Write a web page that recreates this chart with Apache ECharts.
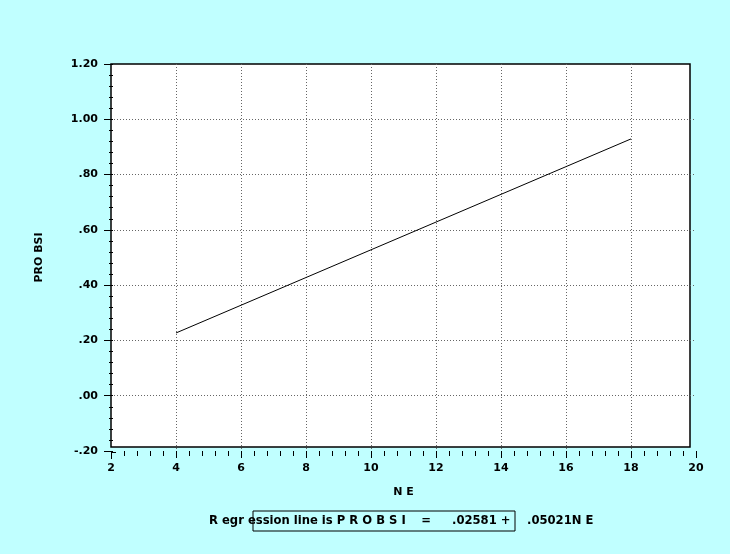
<!DOCTYPE html>
<html>
<head>
<meta charset="utf-8">
<script src="https://cdn.jsdelivr.net/npm/echarts@6/dist/echarts.min.js"></script>
<style>
html,body{margin:0;padding:0;background:#C0FFFF;}
#c{width:730px;height:554px;}
</style>
</head>
<body>
<div id="c"></div>
<script>
// Data
const xValues = [4, 18];
const yValues = [0.227, 0.929];
const xTicks = [2, 4, 6, 8, 10, 12, 14, 16, 18, 20];
const yTicks = ['-.20', '.00', '.20', '.40', '.60', '.80', '1.00', '1.20'];
const xTitle = 'N E';
const yTitle = 'PRO BSI';
const eqParts = ['R egr ession line is P R O B S I', '=', '.02581 +', '.05021N E'];

const FONT = '"DejaVu Sans", sans-serif';
const FS = 11;
const EQFS = 11.6;
function fmtY(v) {
  const idx = Math.round((v + 0.2) / 0.2);
  return yTicks[idx] !== undefined ? yTicks[idx] : '';
}

const chart = echarts.init(document.getElementById('c'), null, {renderer: 'canvas'});
const option = {
  backgroundColor: '#C0FFFF',
  animation: false,
  grid: [
    {left: 111, top: 64, width: 579, height: 383, show: true, backgroundColor: '#ffffff', borderColor: '#000000', borderWidth: 1.5, z: 0},
    {left: 111, top: 64, right: 34, bottom: 103, show: false}
  ],
  xAxis: [
    {gridIndex: 0, type: 'value', min: 0, max: 1, show: false},
    {
      gridIndex: 1, type: 'value', min: 2, max: 20, interval: 2,
      name: xTitle, nameLocation: 'middle', nameGap: 36,
      nameTextStyle: {fontFamily: FONT, fontWeight: 'bold', fontSize: FS, color: '#000'},
      axisLine: {show: false, onZero: false},
      axisTick: {show: true, inside: false, length: 7, lineStyle: {color: '#000', width: 1}},
      minorTick: {show: true, splitNumber: 5, length: 5, lineStyle: {color: '#000', width: 1}},
      axisLabel: {fontFamily: FONT, fontWeight: 'bold', fontSize: FS, color: '#000', margin: 12,
        formatter: v => (xTicks.indexOf(v) >= 0 ? String(v) : '')},
      splitLine: {show: true, showMinLine: false, showMaxLine: false,
        lineStyle: {color: '#666', type: [1, 2], width: 1}}
    }
  ],
  yAxis: [
    {gridIndex: 0, type: 'value', min: 0, max: 1, show: false},
    {
      gridIndex: 1, type: 'value', min: -0.2, max: 1.2, interval: 0.2, position: 'left',
      name: yTitle, nameLocation: 'middle', nameGap: 66, nameRotate: 90,
      nameTextStyle: {fontFamily: FONT, fontWeight: 'bold', fontSize: FS, color: '#000'},
      axisLine: {show: false, onZero: false},
      axisTick: {show: true, inside: false, length: 7, lineStyle: {color: '#000', width: 1}},
      minorTick: {show: true, splitNumber: 5, length: 2, lineStyle: {color: '#000', width: 1}},
      axisLabel: {fontFamily: FONT, fontWeight: 'bold', fontSize: FS, color: '#000', margin: 13,
        formatter: fmtY},
      splitLine: {show: true, showMinLine: false, showMaxLine: false,
        lineStyle: {color: '#666', type: [1, 2], width: 1}}
    },
    {
      gridIndex: 1, type: 'value', min: -0.2, max: 1.2, interval: 0.2, position: 'left',
      axisLine: {show: false, onZero: false},
      axisTick: {show: true, inside: true, length: 2, lineStyle: {color: '#000', width: 1}},
      minorTick: {show: true, splitNumber: 5, length: 2, lineStyle: {color: '#000', width: 1}},
      axisLabel: {show: false},
      splitLine: {show: false}
    }
  ],
  series: [
    {
      type: 'line', xAxisIndex: 1, yAxisIndex: 1,
      data: xValues.map((x, i) => [x, yValues[i]]),
      showSymbol: false, symbol: 'none',
      lineStyle: {color: '#000', width: 1},
      z: 5
    }
  ],
  graphic: [
    {type: 'polyline', shape: {points: [[116, 452.5], [111.5, 452.5], [111.5, 459]]}, style: {stroke: '#000', lineWidth: 1, fill: null}},
    {type: 'rect', shape: {x: 253, y: 511, width: 262, height: 20}, style: {fill: null, stroke: '#000', lineWidth: 1}},
    {type: 'text', x: 209, y: 521, style: {text: eqParts[0], font: 'bold ' + EQFS + 'px ' + FONT, fill: '#000', textVerticalAlign: 'middle'}},
    {type: 'text', x: 426, y: 521, style: {text: eqParts[1], font: 'bold ' + EQFS + 'px ' + FONT, fill: '#000', textAlign: 'center', textVerticalAlign: 'middle'}},
    {type: 'text', x: 452, y: 521, style: {text: eqParts[2], font: 'bold ' + EQFS + 'px ' + FONT, fill: '#000', textVerticalAlign: 'middle'}},
    {type: 'text', x: 527, y: 521, style: {text: eqParts[3], font: 'bold ' + EQFS + 'px ' + FONT, fill: '#000', textVerticalAlign: 'middle'}}
  ]
};
chart.setOption(option);
</script>
</body>
</html>
